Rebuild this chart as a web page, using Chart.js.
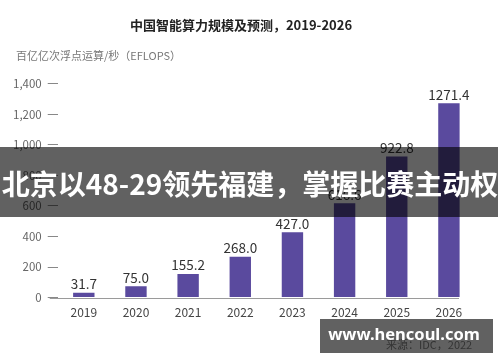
<!DOCTYPE html>
<html>
<head>
<meta charset="utf-8">
<script src="https://cdn.jsdelivr.net/npm/chart.js@4.4.1/dist/chart.umd.min.js"></script>
<style>
  html, body { margin: 0; padding: 0; background: #fff; }
  #wrap { width: 500px; height: 362px; position: relative; }
</style>
</head>
<body>
<div id="wrap"><canvas id="chart" width="500" height="362"></canvas></div>
<script>
// data (2024 is hidden under the banner)
var years = ['2019', '2020', '2021', '2022', '2023', '2024', '2025', '2026'];
var compute = [31.7, 75.0, 155.2, 268.0, 427.0, 616.6, 922.8, 1271.4];
var yTicks = [0, 200, 400, 600, 800, 1000, 1200, 1400];

var chartTitle = '中国智能算力规模及预测，2019-2026';
var unitLabel = '百亿亿次浮点运算/秒（EFLOPS）';
var sourceNote = '来源：IDC，2022';
var bannerText = '北京以48-29领先福建，掌握比赛主动权';
var watermark = 'www.hencoul.com';

var CJK = '"Noto Sans CJK SC", "Noto Sans", sans-serif';

var extras = {
    id: 'extras',
    afterDatasetsDraw: function(chart) {
        var ctx = chart.ctx;
        var meta = chart.getDatasetMeta(0);
        var y = chart.scales.y;
        ctx.save();
        // base line
        ctx.strokeStyle = '#9a9a9a';
        ctx.lineWidth = 1;
        ctx.beginPath();
        ctx.moveTo(chart.chartArea.left - 8, Math.round(y.getPixelForValue(0)) + 0.5);
        ctx.lineTo(chart.chartArea.right - 16, Math.round(y.getPixelForValue(0)) + 0.5);
        ctx.stroke();
        // value labels
        ctx.fillStyle = '#333';
        ctx.font = '13.5px ' + CJK;
        ctx.textAlign = 'center';
        ctx.textBaseline = 'bottom';
        meta.data.forEach(function(bar, i) {
            ctx.fillText(compute[i].toFixed(1), bar.x, bar.y - 2);
        });
        // axis unit
        ctx.fillStyle = '#777';
        ctx.font = '11px ' + CJK;
        ctx.textAlign = 'left';
        ctx.textBaseline = 'middle';
        ctx.fillText(unitLabel, 16, 56);
        // source
        ctx.fillStyle = '#888';
        ctx.font = '11px ' + CJK;
        ctx.fillText(sourceNote, 386, 345);
        ctx.restore();
    },
    afterDraw: function(chart) {
        var ctx = chart.ctx;
        ctx.save();
        // banner across the middle
        ctx.fillStyle = 'rgba(0,0,0,0.62)';
        ctx.fillRect(0, 147, 498, 70);
        ctx.fillStyle = '#fff';
        ctx.font = 'bold 28px ' + CJK;
        ctx.textAlign = 'center';
        ctx.textBaseline = 'middle';
        ctx.fillText(bannerText, 250, 184);
        // watermark box
        ctx.fillStyle = 'rgba(0,0,0,0.62)';
        ctx.fillRect(320, 319, 173, 34);
        ctx.fillStyle = '#fff';
        ctx.font = 'bold 16.5px "Noto Sans", sans-serif';
        ctx.fillText(watermark, 404, 335);
        ctx.restore();
    }
};

new Chart(document.getElementById('chart'), {
    type: 'bar',
    data: {
        labels: years,
        datasets: [{
            data: compute,
            backgroundColor: '#5a4a9e',
            categoryPercentage: 1,
            barPercentage: 0.41
        }]
    },
    options: {
        responsive: false,
        animation: false,
        layout: { padding: { left: 7, right: 25, top: 0, bottom: 42 } },
        plugins: {
            legend: { display: false },
            tooltip: { enabled: false },
            title: {
                display: true,
                text: chartTitle,
                color: '#222',
                font: { family: CJK, size: 13, weight: 'bold' },
                padding: { top: 17, bottom: 51 }
            }
        },
        scales: {
            x: {
                grid: { display: false },
                border: { display: false },
                ticks: { color: '#444', font: { family: CJK, size: 12 }, padding: 0 }
            },
            y: {
                min: 0,
                max: 1400,
                afterBuildTicks: function(axis) {
                    axis.ticks = yTicks.map(function(v) { return { value: v }; });
                },
                grid: { drawOnChartArea: false, tickLength: 10, color: '#888' },
                border: { display: false },
                ticks: {
                    color: '#666',
                    font: { family: CJK, size: 11.5 },
                    padding: 6,
                    callback: function(v) { return v.toLocaleString('en-US'); }
                }
            }
        }
    },
    plugins: [extras]
});
</script>
</body>
</html>
